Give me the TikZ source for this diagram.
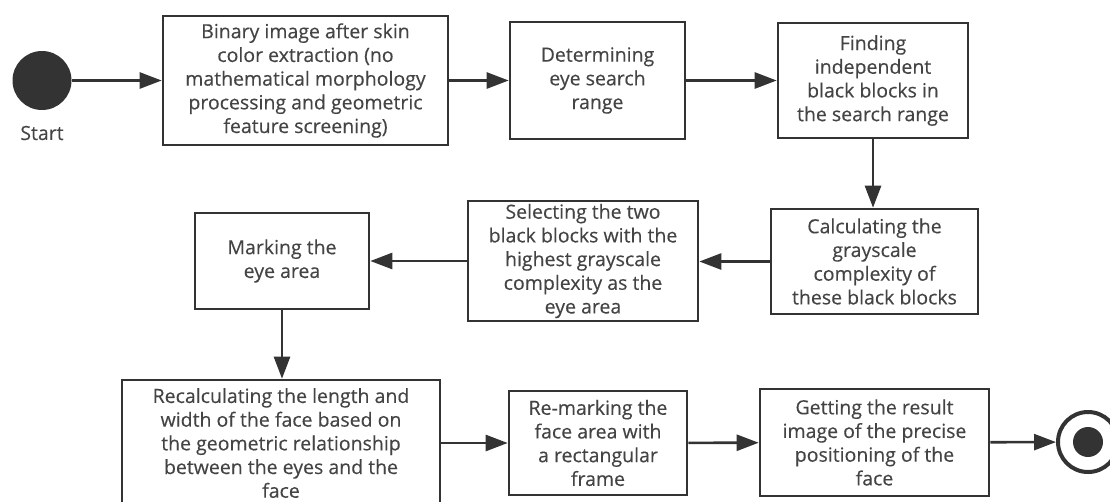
\documentclass[tikz,border=0pt]{standalone}
\usepackage{fontspec}
\setmainfont{Open Sans}
\newfontfamily\boxfont{Open Sans}[FakeBold=0.25]
\usetikzlibrary{arrows.meta}
\definecolor{ln}{HTML}{333333}
\definecolor{tx}{HTML}{444444}
\begin{document}
\begin{tikzpicture}[x=1pt,y=-1pt,
  box/.style={draw=ln, line width=2.6pt, fill=white, text=tx, align=center, inner sep=0pt,
    font=\boxfont\fontsize{19.5}{23.7}\selectfont},
  arr/.style={draw=ln, line width=2.6pt, -{Triangle[length=22pt,width=16pt]}},
  startdot/.style={circle, fill=ln, minimum size=59pt, inner sep=0pt},
  endring/.style={circle, draw=ln, line width=4pt, fill=white, minimum size=60pt, inner sep=0pt},
  enddot/.style={circle, fill=ln, minimum size=30pt, inner sep=0pt},
  lbl/.style={text=tx, font=\boxfont\fontsize{19.5}{23.7}\selectfont}
]
\useasboundingbox (0,0) rectangle (1110,501);
\clip (0,0) rectangle (1110,501);

\node[startdot] (start) at (42,80.5) {};
\node[lbl] (startlbl) at (42,133) {Start};

\node[box, minimum width=285pt, minimum height=129pt] (b1) at (305.5,80.5)
  {Binary image after skin\\color extraction (no\\mathematical morphology\\processing and geometric\\feature screening)};
\node[box, minimum width=175pt, minimum height=117pt] (b2) at (597.5,80.5)
  {Determining\\eye search\\range};
\node[box, minimum width=190pt, minimum height=115pt] (b3) at (873,80.5)
  {Finding\\independent\\black blocks in\\the search range};
\node[box, minimum width=207pt, minimum height=105pt] (b4) at (874.5,261.5)
  {Calculating the\\grayscale\\complexity of\\these black blocks};
\node[box, minimum width=230pt, minimum height=120pt] (b5) at (583,261)
  {Selecting the two\\black blocks with the\\highest grayscale\\complexity as the\\eye area};
\node[box, minimum width=174pt, minimum height=96pt] (b6) at (282,261)
  {Marking the\\eye area};
\node[box, minimum width=318pt, minimum height=126pt] (b7) at (281,443)
  {Recalculating the length and\\width of the face based on\\the geometric relationship\\between the eyes and the\\face};
\node[box, minimum width=178pt, minimum height=104pt] (b8) at (598,443)
  {Re-marking the\\face area with\\a rectangular\\frame};
\node[box, minimum width=229pt, minimum height=107pt] (b9) at (874.5,442.5)
  {Getting the result\\image of the precise\\positioning of the\\face};

\node[endring] (endr) at (1088,442) {};
\node[enddot] (endd) at (1088,442) {};

\draw[arr] (start) -- (b1);
\draw[arr] (b1) -- (b2);
\draw[arr] (b2) -- (b3);
\draw[arr] (b3.south) -- (b3.south |- b4.north);
\draw[arr] (b4.west) -- (b4.west -| b5.east);
\draw[arr] (b5) -- (b6);
\draw[arr] (b6.south) -- (b6.south |- b7.north);
\draw[arr] (b7) -- (b8);
\draw[arr] (b8) -- (b9);
\draw[arr] (b9) -- (endr);
\end{tikzpicture}
\end{document}
